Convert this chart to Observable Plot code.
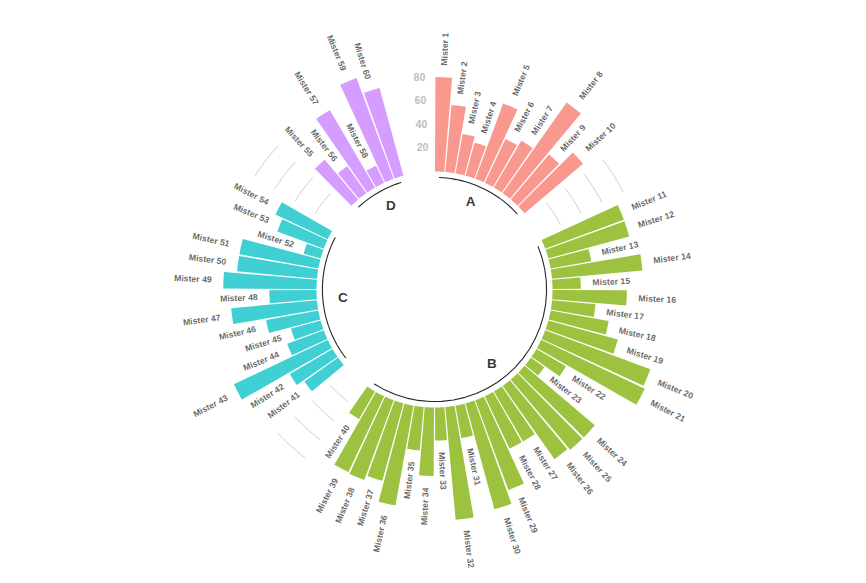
<!DOCTYPE html>
<html><head><meta charset="utf-8">
<script src="https://cdn.jsdelivr.net/npm/d3@7"></script>
<script src="https://cdn.jsdelivr.net/npm/@observablehq/plot@0.6"></script>
<style>html,body{margin:0;padding:0;background:#fff;}</style>
</head><body><div id="chart"></div>
<script>
// ---- data ----
const groups = ["A", "B", "C", "D"];
const groupColors = ["#F9988F", "#9DC240", "#40CFD3", "#D59DFF"];
const valuesA = [80, 57, 34, 29, 68, 41, 46, 94, 50, 65];
const valuesB = [71, 71, 35, 77, 24, 63, 37, 50, 61, 95, 97, 29, 14, 78, 78, 76, 49, 49, 81, 93,
                 28, 96, 28, 58, 37, 86, 68, 72, 71, 27];
const valuesC = [35, 42, 88, 33, 26, 45, 73, 40, 79, 68, 68, 15, 42, 49];
const valuesD = [44, 28, 76, 16, 91, 77];
const gridValues = [20, 40, 60, 80];
const gridLabels = ["20", "40", "60", "80"];
const emptyBar = 3;

// ---- build table (ggplot-style ids with empty bars after each group) ----
const groupValues = [valuesA, valuesB, valuesC, valuesD];
const rows = [];
const base = [];
let id = 0, mister = 0;
groupValues.forEach((vals, gi) => {
  const start = id + 1;
  vals.forEach(v => { id++; mister++; rows.push({id, group: groups[gi], value: v, name: "Mister " + mister}); });
  const end = id;
  base.push({group: groups[gi], start, end});
  id += emptyBar;
});
const nBar = id;
const step = 360 / nBar;
const ang = i => (i - 0.5) * step;           // degrees clockwise from top
const px = (r, a) => r * Math.sin(a * Math.PI / 180);
const py = (r, a) => r * Math.cos(a * Math.PI / 180);
const R0 = 100;                              // ylim lower bound -100 => radius offset

// wedge polygons
const wedgePts = [];
rows.forEach(d => {
  const c = ang(d.id), h = 0.45 * step, n = 8;
  for (let k = 0; k <= n; k++) wedgePts.push({id: d.id, group: d.group, r: R0, a: c - h + 2 * h * k / n});
  for (let k = n; k >= 0; k--) wedgePts.push({id: d.id, group: d.group, r: R0 + d.value, a: c - h + 2 * h * k / n});
});

// arc helper
function arcPts(key, r, a1, a2) {
  const out = [], n = 24;
  for (let k = 0; k <= n; k++) out.push({key, r, a: a1 + (a2 - a1) * k / n});
  return out;
}
// base lines at y = -5
const basePts = base.flatMap(b => arcPts(b.group, R0 - 5, ang(b.start), ang(b.end)));
// grid lines in gaps (except before first group)
const gridPts = [];
base.forEach((b, i) => {
  if (i === 0) return;
  const s = base[i - 1].end + 1, e = b.start - 1;
  gridValues.forEach(g => gridPts.push(...arcPts(b.group + g, R0 + g, ang(s), ang(e))));
});

// labels
const labelRows = rows.map(d => {
  const a = ang(d.id);
  const left = a > 180;
  return {...d, a, left, rot: left ? a - 270 : a - 90};
});
const groupLabelRows = base.map((b, i) => ({group: b.group, a: ang((b.start + b.end) / 2), anchor: i < 2 ? "end" : "start"}));

// ---- plot ----
const W = 866, H = 583, cx = 434, cy = 289, k = 1.18;
const font = "'Liberation Sans', Arial, sans-serif";
const chart = Plot.plot({
  width: W, height: H, margin: 0,
  style: {fontFamily: font, background: "#fff"},
  x: {domain: [-cx / k, (W - cx) / k], axis: null},
  y: {domain: [-(H - cy) / k, cy / k], axis: null},
  color: {domain: groups, range: groupColors},
  marks: [
    Plot.line(wedgePts, {x: d => px(d.r, d.a), y: d => py(d.r, d.a), z: "id", fill: "group", stroke: "none", curve: "linear-closed"}),
    Plot.line(gridPts, {x: d => px(d.r, d.a), y: d => py(d.r, d.a), z: "key", stroke: "#BEBEBE", strokeWidth: 0.8}),
    Plot.line(basePts, {x: d => px(d.r, d.a), y: d => py(d.r, d.a), z: "key", stroke: "#000", strokeOpacity: 0.85, strokeWidth: 1.1}),
    Plot.text(gridValues, {x: v => px(R0 + v, ang(nBar)), y: v => py(R0 + v, ang(nBar)), text: (v, i) => gridLabels[i],
      textAnchor: "end", fill: "#BEBEBE", fontWeight: "bold", fontSize: 10.5}),
    Plot.text(labelRows.filter(d => !d.left), {x: d => px(R0 + d.value + 10, d.a), y: d => py(R0 + d.value + 10, d.a),
      text: "name", rotate: "rot", textAnchor: "start", fill: "#000", fillOpacity: 0.62, fontWeight: "bold", fontSize: 8.7}),
    Plot.text(labelRows.filter(d => d.left), {x: d => px(R0 + d.value + 10, d.a), y: d => py(R0 + d.value + 10, d.a),
      text: "name", rotate: "rot", textAnchor: "end", fill: "#000", fillOpacity: 0.62, fontWeight: "bold", fontSize: 8.7}),
    Plot.text(groupLabelRows.filter(d => d.anchor === "end"), {x: d => px(R0 - 18, d.a), y: d => py(R0 - 18, d.a),
      text: "group", textAnchor: "end", fill: "#000", fillOpacity: 0.8, fontWeight: "bold", fontSize: 13.5}),
    Plot.text(groupLabelRows.filter(d => d.anchor === "start"), {x: d => px(R0 - 18, d.a), y: d => py(R0 - 18, d.a),
      text: "group", textAnchor: "start", fill: "#000", fillOpacity: 0.8, fontWeight: "bold", fontSize: 13.5})
  ]
});
document.getElementById("chart").append(chart);
</script>
</body></html>
